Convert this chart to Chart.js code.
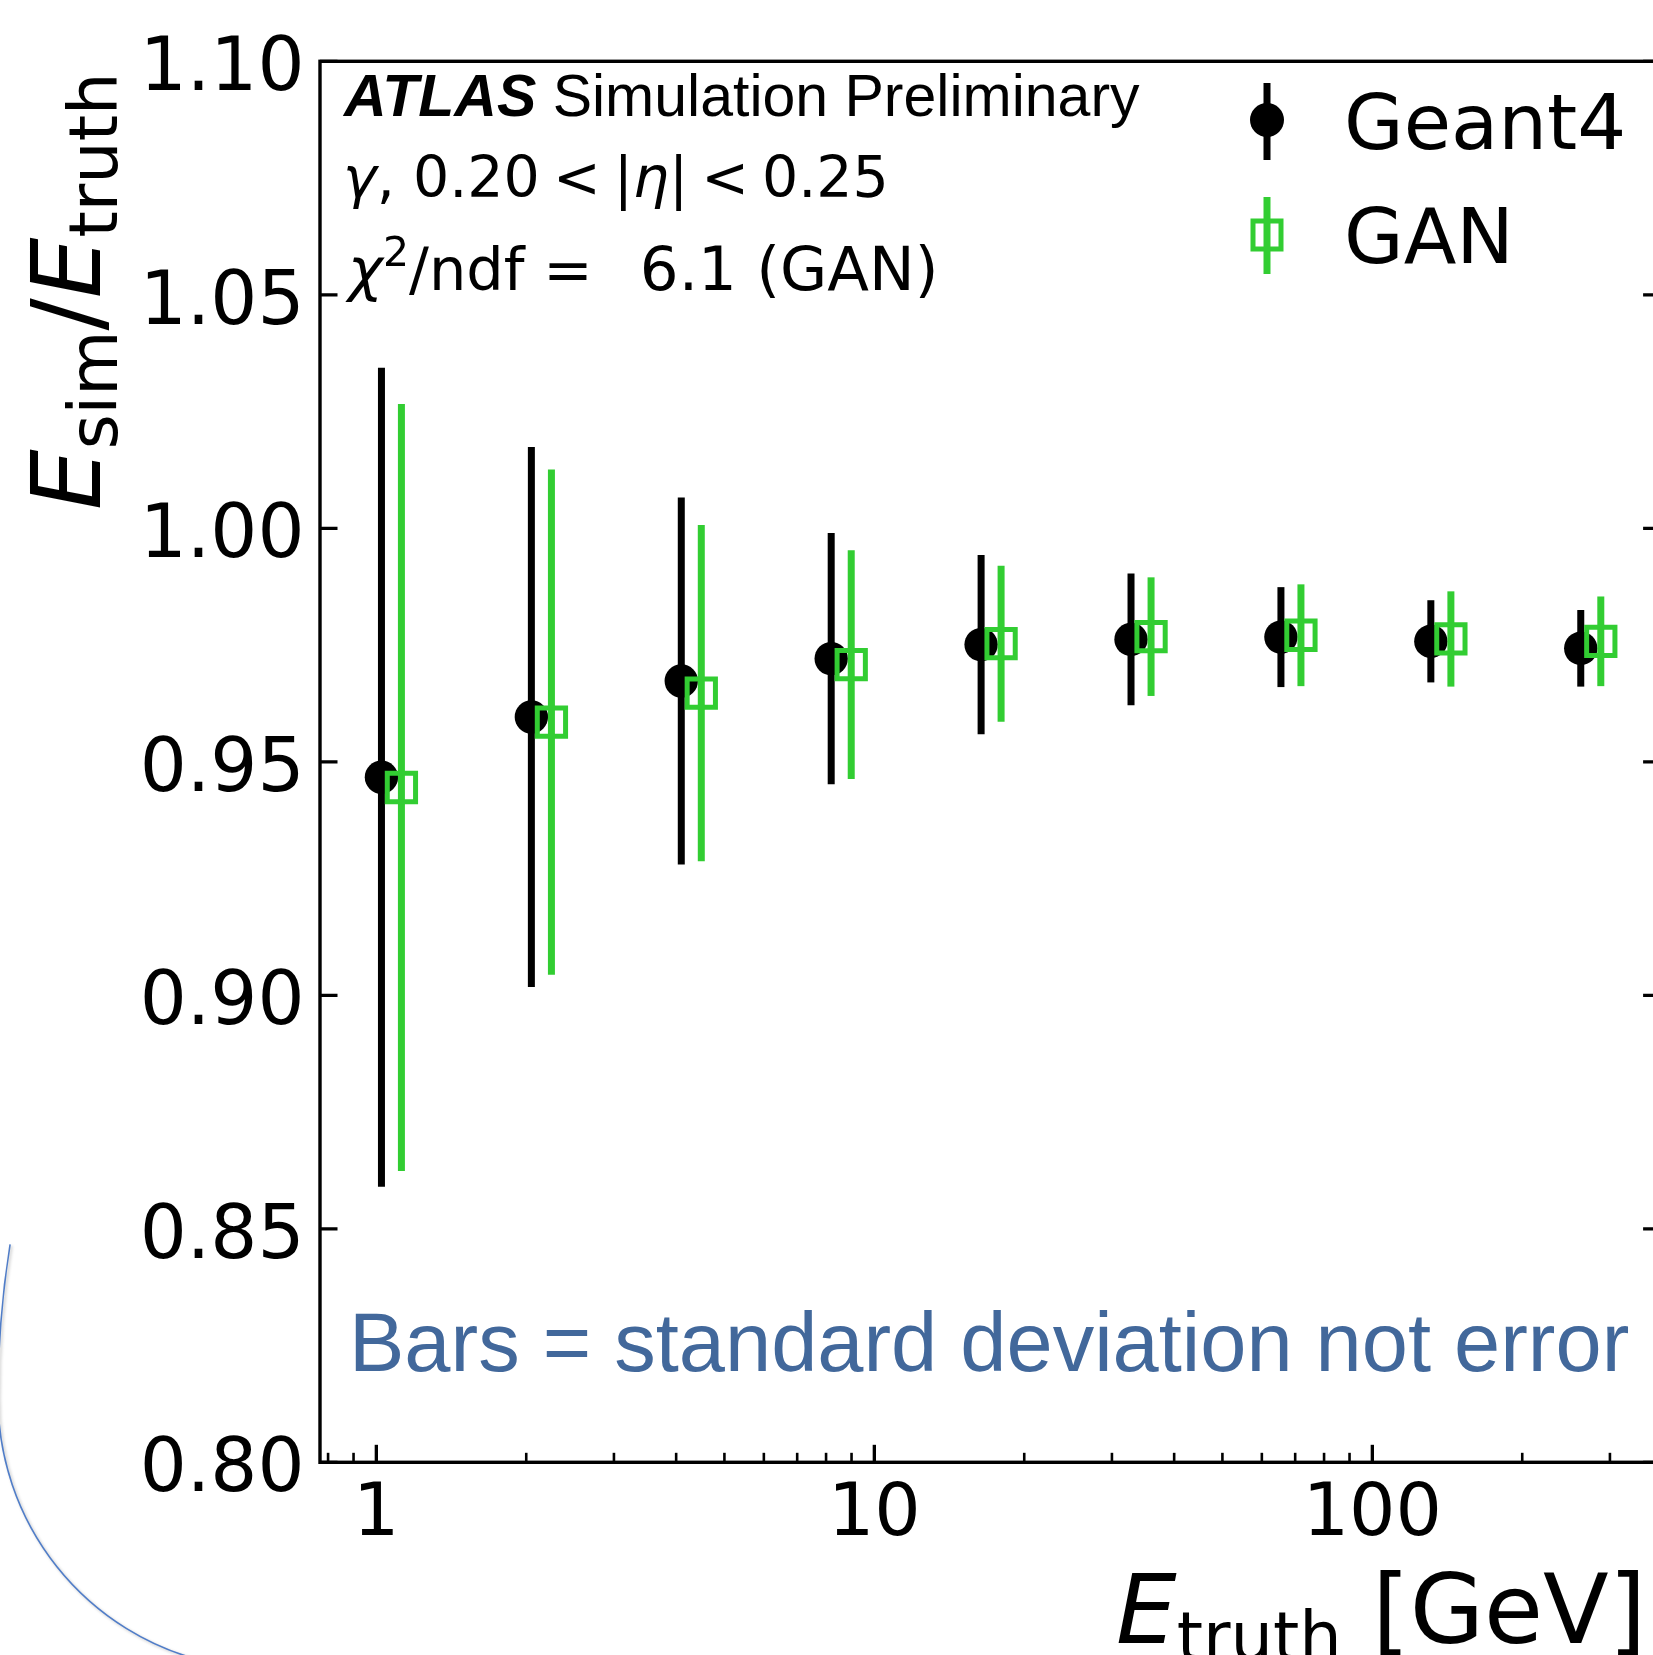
<!DOCTYPE html>
<html>
<head>
<meta charset="utf-8">
<script src="https://cdn.jsdelivr.net/npm/chart.js@4.4.0/dist/chart.umd.min.js"></script>
<style>
  html, body { margin: 0; padding: 0; background: #fff; overflow: hidden; }
  #wrap { width: 1653px; height: 1655px; overflow: hidden; position: relative; }
  canvas { display: block; }
</style>
</head>
<body>
<div id="wrap"><canvas id="c" width="1700" height="1655"></canvas></div>
<script>
// ---- data ----
const energies    = [1.024, 2.048, 4.096, 8.192, 16.384, 32.768, 65.536, 131.072, 262.144];
const ganEnergies = [1.123, 2.247, 4.493, 8.987, 17.97, 35.95, 71.89, 143.8, 287.6];
const geantMean = [0.9467, 0.9596, 0.9673, 0.9721, 0.9751, 0.9762, 0.9767, 0.9758, 0.9743];
const geantStd  = [0.0877, 0.0578, 0.0393, 0.0269, 0.0192, 0.0141, 0.0107, 0.0088, 0.0082];
const ganMean   = [0.9445, 0.9585, 0.9647, 0.9708, 0.9753, 0.9768, 0.9771, 0.9763, 0.9758];
const ganStd    = [0.0821, 0.0541, 0.0360, 0.0245, 0.0167, 0.0127, 0.0109, 0.0102, 0.0096];
const xMajorTicks = [1, 10, 100];
const xMinorTicks = [0.8, 0.9, 2, 3, 4, 5, 6, 7, 8, 9, 20, 30, 40, 50, 60, 70, 80, 90, 200, 300];
const yTicks = [0.80, 0.85, 0.90, 0.95, 1.00, 1.05, 1.10];
const seriesLabels = ['Geant4', 'GAN'];

const BLACK = '#000000';
const GREEN = '#32cd32';
const NOTE_BLUE = 'rgb(66,104,155)';

function drawRuns(ctx, x, y, runs) {
  for (const r of runs) {
    ctx.font = r.font;
    if (r.gap) x += r.gap;
    ctx.fillText(r.text, x, y + (r.dy || 0));
    x += ctx.measureText(r.text).width;
  }
  return x;
}

const decor = {
  id: 'decor',
  beforeDatasetDraw(chart, args) {
    const ds = chart.data.datasets[args.index];
    const xs = chart.scales.x, ys = chart.scales.y;
    const ctx = chart.ctx;
    ctx.save();
    ctx.strokeStyle = ds.barColor;
    ctx.lineWidth = 7;
    ctx.lineCap = 'butt';
    ds.data.forEach((p, i) => {
      const px = xs.getPixelForValue(p.x);
      ctx.beginPath();
      ctx.moveTo(px, ys.getPixelForValue(p.y - ds.std[i]));
      ctx.lineTo(px, ys.getPixelForValue(p.y + ds.std[i]));
      ctx.stroke();
    });
    ctx.restore();
  },
  afterDraw(chart) {
    const ctx = chart.ctx;
    const a = chart.chartArea;
    const xs = chart.scales.x, ys = chart.scales.y;
    ctx.save();
    // frame
    ctx.strokeStyle = BLACK;
    ctx.lineWidth = 3.4;
    ctx.strokeRect(a.left, a.top, a.right - a.left, a.bottom - a.top);
    // y ticks (inward, left and right)
    ctx.lineWidth = 3.3;
    ys.ticks.forEach(t => {
      const py = ys.getPixelForValue(t.value);
      ctx.beginPath();
      ctx.moveTo(a.left, py); ctx.lineTo(a.left + 17.5, py);
      ctx.moveTo(a.right, py); ctx.lineTo(a.right - 17.5, py);
      ctx.stroke();
    });
    // x ticks (inward, bottom)
    xs.ticks.forEach(t => {
      const px = xs.getPixelForValue(t.value);
      const major = xMajorTicks.includes(t.value);
      ctx.lineWidth = major ? 3.3 : 2.6;
      ctx.beginPath();
      ctx.moveTo(px, a.bottom); ctx.lineTo(px, a.bottom - (major ? 17.5 : 9.5));
      ctx.stroke();
    });

    // annotations
    ctx.fillStyle = BLACK;
    ctx.textBaseline = 'alphabetic';
    ctx.textAlign = 'left';
    const LS = '"Liberation Sans", Arial, sans-serif';
    const DJ = '"DejaVu Sans", sans-serif';
    drawRuns(ctx, 344, 116, [
      { text: 'ATLAS', font: 'italic bold 59px ' + LS },
      { text: ' Simulation Preliminary', font: '59px ' + LS }
    ]);
    drawRuns(ctx, 343, 197, [
      { text: 'γ', font: 'italic 57px ' + DJ },
      { text: ', 0.20', font: '57px ' + DJ },
      { text: '<', font: '57px ' + DJ, gap: 13 },
      { text: '|', font: '57px ' + DJ, gap: 13 },
      { text: 'η', font: 'italic 57px ' + DJ },
      { text: '|', font: '57px ' + DJ },
      { text: '<', font: '57px ' + DJ, gap: 13 },
      { text: '0.25', font: '57px ' + DJ, gap: 13 }
    ]);
    drawRuns(ctx, 348, 290, [
      { text: 'χ', font: 'italic 59px ' + DJ },
      { text: '2', font: '41px ' + DJ, dy: -24 },
      { text: '/ndf = ', font: '59px ' + DJ },
      { text: ' 6.1 (GAN)', font: '61px ' + DJ, gap: 9 }
    ]);
    ctx.fillStyle = NOTE_BLUE;
    ctx.font = '83px ' + LS;
    ctx.fillText('Bars = standard deviation not error', 349, 1371);

    // legend
    const lx = 1267;
    ctx.lineWidth = 7;
    ctx.strokeStyle = BLACK;
    ctx.beginPath(); ctx.moveTo(lx, 83); ctx.lineTo(lx, 160); ctx.stroke();
    ctx.fillStyle = BLACK;
    ctx.beginPath(); ctx.arc(lx, 120, 17, 0, Math.PI * 2); ctx.fill();
    ctx.strokeStyle = GREEN;
    ctx.beginPath(); ctx.moveTo(lx, 197); ctx.lineTo(lx, 274); ctx.stroke();
    ctx.lineWidth = 5;
    ctx.strokeRect(lx - 14, 235 - 14, 28, 28);
    ctx.fillStyle = BLACK;
    ctx.font = '77px ' + DJ;
    ctx.fillText(seriesLabels[0], 1344, 149);
    ctx.fillText(seriesLabels[1], 1344, 263);

    // axis titles
    const itDJ = 'italic 96px ' + DJ;
    const subDJ = '67px ' + DJ;
    drawRuns(ctx, 1116, 1643, [
      { text: 'E', font: itDJ },
      { text: 'truth', font: subDJ, dy: 17 },
      { text: ' [GeV]', font: '96px ' + DJ }
    ]);
    ctx.save();
    ctx.translate(100, 510);
    ctx.rotate(-Math.PI / 2);
    drawRuns(ctx, 0, 0, [
      { text: 'E', font: itDJ },
      { text: 'sim', font: subDJ, dy: 17 },
      { text: '/', font: '96px ' + DJ },
      { text: 'E', font: itDJ },
      { text: 'truth', font: subDJ, dy: 17 }
    ]);
    ctx.restore();

    // slide decoration arc (lower left)
    ctx.strokeStyle = 'rgb(80,125,200)';
    ctx.lineWidth = 1.6;
    ctx.shadowColor = 'rgba(0,0,0,0.25)';
    ctx.shadowBlur = 3;
    ctx.shadowOffsetX = 1.5;
    ctx.shadowOffsetY = 1.5;
    ctx.beginPath();
    ctx.ellipse(269, 1398, 271, 271, 0, 1.8, Math.PI, false);
    ctx.ellipse(269, 1398, 271, 520, 0, Math.PI, Math.PI + 0.3, false);
    ctx.stroke();
    ctx.restore();
  }
};

new Chart(document.getElementById('c'), {
  type: 'scatter',
  data: {
    datasets: [
      {
        label: seriesLabels[0],
        data: energies.map((e, i) => ({ x: e, y: geantMean[i] })),
        std: geantStd, barColor: BLACK,
        pointStyle: 'circle', pointRadius: 16.7, pointHoverRadius: 16.7,
        backgroundColor: BLACK, borderWidth: 0, order: 2
      },
      {
        label: seriesLabels[1],
        data: ganEnergies.map((e, i) => ({ x: e, y: ganMean[i] })),
        std: ganStd, barColor: GREEN,
        pointStyle: 'rect', pointRadius: 20, pointHoverRadius: 20,
        backgroundColor: 'rgba(0,0,0,0)', borderColor: GREEN, borderWidth: 5, order: 1
      }
    ]
  },
  options: {
    responsive: false, animation: false, devicePixelRatio: 1, events: [],
    layout: { padding: { left: 0, top: 61.3, right: 39.4, bottom: 0 } },
    plugins: { legend: { display: false }, tooltip: { enabled: false } },
    scales: {
      x: {
        type: 'logarithmic', min: 0.7707, max: 379.2, bounds: 'data',
        grid: { display: false }, border: { display: false },
        afterBuildTicks: s => { s.ticks = xMinorTicks.concat(xMajorTicks).sort((p, q) => p - q).map(v => ({ value: v })); },
        afterFit: s => { s.height = 1655 - 1462.3; },
        ticks: {
          autoSkip: false, maxRotation: 0, minRotation: 0, padding: 2, color: BLACK,
          font: { family: 'DejaVu Sans', size: 73 },
          callback: v => xMajorTicks.includes(v) ? String(v) : ''
        }
      },
      y: {
        type: 'linear', min: 0.8, max: 1.1,
        grid: { display: false }, border: { display: false },
        afterBuildTicks: s => { s.ticks = yTicks.map(v => ({ value: v })); },
        afterFit: s => { s.width = 320; },
        ticks: {
          padding: 7.5, labelOffset: 9.5, color: BLACK,
          font: { family: 'DejaVu Sans', size: 74 },
          callback: v => Number(v).toFixed(2)
        }
      }
    }
  },
  plugins: [decor]
});
</script>
</body>
</html>
